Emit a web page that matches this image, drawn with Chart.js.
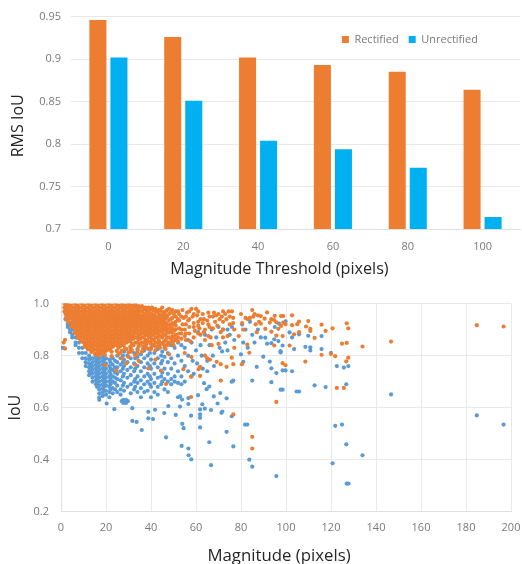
<!DOCTYPE html>
<html><head><meta charset="utf-8">
<style>
html,body{margin:0;padding:0;background:#fff;width:522px;height:564px;overflow:hidden}
.box{position:absolute;left:0;width:522px}
canvas{display:block;filter:blur(.35px)}
</style>
<script src="https://cdn.jsdelivr.net/npm/chart.js@4"></script>
</head><body>
<div class="box" style="top:0;height:285px"><canvas id="bars" width="522" height="285"></canvas></div>
<div class="box" style="top:285px;height:279px"><canvas id="scatter" width="522" height="279"></canvas></div>
<script>
const thresholds = ['0','20','40','60','80','100'];
const rectifiedRms = [0.946,0.926,0.902,0.893,0.885,0.864];
const unrectifiedRms = [0.902,0.851,0.804,0.794,0.772,0.714];
const rmsTicks = [0.7,0.75,0.8,0.85,0.9,0.95];

const rectifiedColumns = [
[1.5,[1,.985,.97]],[2.2,[1,.99,.975,.96,.945]],
[3,[1,.984,.968,.952,.936,.93]],[4.5,[.992,.976,.96,.944,.928,.912]],
[6,[1,.984,.968,.952,.936,.92,.904,.888]],[7.5,[.992,.976,.96,.944,.928,.912,.896,.88,.868]],
[9,[1,.984,.968,.952,.936,.92,.904,.888,.872,.856]],[10.5,[.992,.976,.96,.944,.928,.912,.896,.88,.864,.848,.835]],
[12,[1,.984,.968,.952,.936,.92,.904,.888,.872,.856,.84,.824]],[13.5,[.992,.976,.96,.944,.928,.912,.896,.88,.864,.848,.832,.814]],
[15,[1,.984,.968,.952,.936,.92,.904,.888,.872,.856,.84,.824,.806]],[16.5,[.992,.976,.96,.944,.928,.912,.896,.88,.864,.848,.832,.816,.8]],
[18,[1,.984,.968,.952,.936,.92,.904,.888,.872,.856,.84,.824,.81]],[19.5,[.992,.976,.96,.944,.928,.912,.896,.88,.864,.848,.832,.816,.802]],
[21,[1,.984,.968,.952,.936,.92,.904,.888,.872,.856,.84,.826]],[22.5,[.992,.976,.96,.944,.928,.912,.896,.88,.864,.848,.832,.815,.798]],
[24,[1,.984,.968,.952,.936,.92,.904,.888,.872,.856,.842]],[25.5,[.992,.976,.96,.944,.928,.912,.896,.88,.864,.848,.83,.805]],
[27,[.998,.984,.968,.952,.936,.92,.904,.888,.872,.856,.84,.818,.79]],[28.5,[.992,.976,.96,.944,.928,.912,.896,.88,.864,.85,.828]],
[30,[.998,.984,.968,.952,.936,.92,.904,.888,.872,.858,.812,.795]],[31.5,[.992,.976,.96,.944,.928,.912,.896,.88,.864,.845,.82]],
[33,[.996,.984,.968,.952,.936,.92,.904,.888,.87,.85,.8]],[34.5,[.99,.976,.96,.944,.928,.912,.896,.88,.862,.835,.78]],
[36,[.99,.97,.952,.936,.92,.904,.888,.87,.85,.815]],[37.5,[.985,.976,.96,.944,.928,.912,.896,.88,.86,.84]],
[39,[.985,.968,.952,.936,.92,.904,.888,.872,.855,.825]],[40.5,[.985,.976,.96,.944,.928,.912,.896,.88,.862,.84]],
[42,[.98,.968,.952,.936,.92,.904,.888,.87,.85,.835]],[43.5,[.975,.96,.944,.928,.912,.896,.88,.86,.84]],
[45,[.985,.968,.952,.936,.92,.904,.888,.87,.845]],[46.5,[.97,.955,.944,.928,.912,.896,.88,.86,.825]],
[48,[.98,.96,.936,.92,.904,.888,.87,.85]],[49.5,[.975,.945,.925,.905,.89,.875,.855]],
[51,[.97,.95,.93,.915,.9,.88,.86]],[52.5,[.96,.935,.905,.885]],
[3.8,[.992,.975,.96,.945]],[5.2,[.985,.97,.955,.94,.925,.91]],[6.8,[.992,.975,.96,.945,.93,.915,.9,.885]],[8.2,[.985,.97,.955,.94,.925,.91,.895,.88,.865]],
[9.8,[.992,.975,.96,.945,.93,.915,.9,.885,.87,.852]],[11.2,[.985,.97,.955,.94,.925,.91,.895,.88,.865,.85,.833]],
[12.8,[.992,.975,.96,.945,.93,.915,.9,.885,.87,.855,.84,.825]],[14.2,[.985,.97,.955,.94,.925,.91,.895,.88,.865,.85,.835,.82]],
[15.8,[.992,.975,.96,.945,.93,.915,.9,.885,.87,.855,.84,.825,.81]],[17.2,[.985,.97,.955,.94,.925,.91,.895,.88,.865,.85,.835,.82,.805]],
[18.8,[.992,.975,.96,.945,.93,.915,.9,.885,.87,.855,.84,.825,.812]],[20.2,[.985,.97,.955,.94,.925,.91,.895,.88,.865,.85,.835,.82]],
[21.8,[.992,.975,.96,.945,.93,.915,.9,.885,.87,.855,.84,.822]],[23.2,[.985,.97,.955,.94,.925,.91,.895,.88,.865,.85,.835]],
[24.8,[.992,.975,.96,.945,.93,.915,.9,.885,.87,.855,.84,.818]],[26.2,[.985,.97,.955,.94,.925,.91,.895,.88,.865,.85,.835,.81]],
[27.8,[.992,.975,.96,.945,.93,.915,.9,.885,.87,.855,.84]],[29.2,[.985,.97,.955,.94,.925,.91,.895,.88,.865,.85,.825]],
[30.8,[.992,.975,.96,.945,.93,.915,.9,.885,.87,.855,.835]],[32.2,[.985,.97,.955,.94,.925,.91,.895,.88,.865,.84]],
[33.8,[.988,.975,.96,.945,.93,.915,.9,.885,.87,.85]],[35.2,[.985,.97,.955,.94,.925,.91,.895,.88,.865,.845]],
[36.8,[.98,.96,.945,.93,.915,.9,.885,.87,.85]],[38.2,[.98,.97,.955,.94,.925,.91,.895,.88,.86]],
[39.8,[.978,.96,.945,.93,.915,.9,.885,.87,.85]],[41.2,[.975,.955,.94,.925,.91,.895,.88,.86,.84]],
[42.8,[.97,.945,.93,.915,.9,.885,.87,.85]],[44.2,[.975,.955,.94,.925,.91,.895,.875]],
[45.8,[.96,.945,.93,.915,.9,.88,.855]],[47.2,[.975,.95,.92,.905,.89,.87]],[48.8,[.965,.94,.915,.895,.865]],[50.2,[.96,.92,.895,.87]],
[31,[.83,.815]],[34,[.85,.82,.81]],[36.5,[.835,.825]],[38,[.845,.83]],[40,[.845,.825]],[42,[.82]],[44,[.85,.83]],[46,[.84]],[47.5,[.85,.84]],[50,[.855,.84]],
[52,[.97,.94,.87,.855]],[53.5,[.95,.9,.885,.865]],[55.5,[.95,.92,.885,.86]],[57,[.97,.94]],[59,[.96,.91]],[61,[.97,.915,.885]],[63.5,[.94,.89]],[65.5,[.965,.92,.875]],[67.5,[.95,.905]],[72,[.97,.9,.87]],[75,[.92]]
];
const rectifiedPairs = [
[54,.975],[54.5,.945],[54,.92],[55,.9],[55,.875],[56,.965],[56.5,.935],[57,.91],[57,.885],[57.5,.855],[58,.98],[58.5,.95],[59,.925],[59.5,.895],[59,.87],
[60,.98],[60.5,.955],[61,.93],[61.5,.905],[62,.94],[62,.88],[63,.96],[63,.925],[64,.9],[64,.86],[65,.935],[66,.95],[66,.91],[66.5,.87],[67,.84],
[68,.965],[68.5,.93],[69,.955],[69.5,.915],[70,.96],[70.5,.94],[71,.89],[71.5,.95],[72,.93],[73,.96],[73.5,.94],[74,.875],[74.5,.97],[75,.95],[76,.97],[76.5,.945],[76.5,.925],[77,.9],
[80,.96],[80.5,.925],[81,.9],[82,.945],[83,.94],[84,.945],[85,.975],[85.5,.95],[86,.96],[86.5,.92],[87,.89],[87.5,.955],[88,.93],[88.8,.952],[88.8,.923],[90.5,.942],[91.6,.966],
[90.8,.903],[92.8,.927],[93.5,.94],[93.5,.892],[94.7,.937],[95,.953],[95.7,.928],[95.7,.877],[94.8,.839],[96.6,.903],[97.8,.952],[97.8,.914],[98.8,.952],[98.8,.927],[98.5,.875],[99.8,.921],
[102.7,.955],[102.7,.917],[103.6,.882],[101.6,.839],[105,.921],[105.8,.931],[105.8,.89],[108.9,.912],[109.9,.933],[110.8,.903],[110.8,.895],[112.7,.868],[115.8,.919],[117.6,.895],[120.7,.905],
[127,.924],[127.7,.905],[127,.849],[124.9,.846],[134,.835],[146.7,.854],[184.8,.917],[196.7,.912],
[127.7,.792],[126.8,.778],[121.9,.798],[120,.806],[115.8,.803],[108.6,.777],[99.8,.763],[98.5,.771],[125.7,.676],[122.6,.676],[95.7,.622],
[85,.488],[85,.443],[76.6,.574],[57.8,.641],[46.7,.691],[57.8,.719],[71,.704],[75.9,.792],[76.6,.767],[80.4,.767],[73.6,.757],[71,.767],[69.2,.776],[66.2,.785],[65,.79],[61.8,.757],[61.2,.748],[61.8,.722],[54.4,.748],[44.4,.742],[38.8,.751],[24.7,.742],[19.6,.763],[29,.77],[33,.765],[42,.785],[48,.805],[55,.81],[58,.795],[64,.8],
[1.8,.861],[1.8,.827],[1.2,.85],[82.8,.842],[83.7,.811],[70,.845],[77,.83],[79,.875]
];
const unrectifiedColumns = [
[2,[.99,.96,.94]],[3,[.95,.92,.91]],[4,[.92,.9,.89]],[5,[.9,.88,.87]],[6.5,[.87,.85,.84]],[8,[.85,.83,.81]],[9.5,[.83,.81,.79]],
[11,[.81,.79,.775,.76]],[12.5,[.8,.785,.77,.755,.74,.725]],[14,[.79,.775,.76,.745,.73,.715,.7]],[15.5,[.795,.78,.765,.75,.735,.72,.705,.69]],
[17,[.79,.775,.76,.745,.73,.715,.7,.685,.67,.655,.64,.63]],[18.5,[.795,.78,.765,.75,.735,.72,.705,.69,.675,.66,.645]],
[20,[.79,.77,.75,.73,.715,.7,.685,.665,.65]],[21.5,[.785,.76,.74,.72,.7,.68,.66,.64]],[23,[.79,.765,.745,.72,.7,.675,.655]],
[25,[.8,.775,.755,.73,.71,.685,.66]],[26.5,[.79,.765,.74,.705,.67,.65]],[28,[.815,.785,.76,.73,.695,.665]],[29.5,[.8,.775,.745,.715,.68]],
[31,[.82,.79,.755,.725,.69,.655]],[32.5,[.81,.77,.74,.7,.67]],[34,[.825,.795,.76,.72,.695,.66]],[35.5,[.805,.775,.74,.705,.675,.64]],
[37,[.82,.79,.755,.72,.69,.66]],[38.5,[.8,.77,.73,.7,.665]],[40,[.83,.785,.75,.71,.68,.64]],[41.5,[.81,.77,.73,.695,.66]],
[43,[.825,.79,.755,.715,.68,.65]],[44.5,[.8,.77,.72,.69]],[46,[.83,.795,.75,.71,.67]],[47.5,[.81,.775,.73,.7,.66]],
[49,[.84,.79,.75,.71,.69]],[50.5,[.83,.77,.72,.7]],[52,[.85,.8,.74,.695,.64]],[53.5,[.84,.78,.72,.69]],[55,[.83,.76,.7]],[56.5,[.86,.8,.74]],
[13,[.79,.765,.75,.735]],[16,[.785,.77,.755,.74,.725,.71,.695,.68]],[19.2,[.785,.77,.755,.74,.725,.71,.695,.68,.665]],[22,[.775,.75,.73,.71,.69,.67]],[24,[.78,.755,.735,.715,.695,.67]],
[27.5,[.8,.775,.75,.72,.685]],[33,[.79,.75,.71,.68]],[39.5,[.81,.76,.72,.69]],[45,[.815,.78,.735,.7]]
];
const unrectifiedPairs = [
[0,.83],[1,.83],[58,.85],[58.5,.78],[59,.73],[60,.82],[60.5,.77],[61,.89],[62,.84],[62.5,.8],[63,.75],[64,.88],[65,.78],[65,.74],[66,.84],[67,.9],[67.5,.8],[68,.76],[69,.87],[70,.91],[70.5,.83],[71.6,.816],[72,.9],[73,.85],[74,.82],[74,.9],[75,.88],[76,.91],[77,.86],[80,.805],[81,.776],[80.5,.92],[81,.85],[82,.9],[83,.83],[84,.93],[85,.704],[85,.88],[86,.85],[87,.757],[87.5,.9],
[89.9,.796],[88.8,.87],[90.8,.869],[91.6,.846],[93.5,.848],[94.8,.863],[95,.91],[96.6,.856],[96.9,.923],[98.5,.839],[97.6,.817],[97.6,.812],[99.8,.932],[101.6,.889],[102.7,.87],[103.6,.825],[105.8,.882],[108.6,.834],[109.9,.876],[110.8,.832],[110.8,.82],[115.8,.875],[115.8,.825],[120,.811],
[92.8,.777],[93.5,.751],[95.7,.733],[93.5,.698],[98.5,.743],[99.8,.743],[102.7,.74],[97.6,.669],[98.5,.669],[104.7,.662],[105.8,.662],[112.7,.686],[117.6,.679],[126.8,.69],[122.6,.76],[125.7,.754],[127.7,.76],[146.7,.651],
[184.8,.57],[196.7,.535],[134,.417],[126.8,.459],[124.9,.535],[121.9,.53],[120.7,.386],[127,.308],[127.8,.308],[95.7,.337],
[85,.373],[83.7,.4],[66.7,.379],[57.9,.401],[56.7,.417],[56.6,.443],[53.6,.453],[46.7,.486],[65.9,.467],[76.6,.451],[73.6,.507],[35.9,.514],[33.6,.545],[31.7,.549],[38.8,.559],[40.9,.556],[53.9,.538],[54.5,.521],[61.8,.524],[81.8,.535],[82.8,.535],[75.9,.567],[71.3,.58],[71.7,.585],[61.8,.593],[61.8,.574],[61.8,.561],[63.9,.596],[66.7,.591],[57.8,.569],[51,.572],[45.9,.579],[38.8,.584],[41.8,.592],[31.7,.598],[23.7,.594],[47.7,.606],[52.9,.604],[56.6,.614],[62.8,.613],[69.6,.616],[60.9,.648],[67.9,.643],[70.8,.656],[73.6,.636],[64.7,.671],[65.9,.681],[56.6,.637],[52.9,.643],[53.8,.631],
[27,.625],[27.7,.63],[28.9,.63],[29.7,.625],[28.9,.618],[27.7,.618],[20.3,.616],[63.6,.694],[75.9,.7],[76.6,.704],[58,.72]
];

const rectifiedPoints = rectifiedColumns.flatMap(([x, ys]) => ys.map(y => ({x, y})))
  .concat(rectifiedPairs.map(([x, y]) => ({x, y})));
const unrectifiedPoints = unrectifiedColumns.flatMap(([x, ys]) => ys.map(y => ({x, y})))
  .concat(unrectifiedPairs.map(([x, y]) => ({x, y})));

const FONT = '"Open Sans", sans-serif';
const TICK = '#7a7a7a', GRID = '#e9e9e9', TITLE = '#262626';
const fixW = w => s => { s.width = w; };
const fixH = h => s => { s.height = h; s.paddingLeft = 0; s.paddingRight = 0; };
const shiftTitle = (scale, dx, dy) => {
  const draw = scale.drawTitle;
  scale.drawTitle = function () { const c = this.ctx; c.save(); c.translate(dx, dy); draw.call(this); c.restore(); };
};
const titleShift = (xdx, xdy, ydx, ydy) => ({
  id: 'titleShift',
  start() { this.done = false; },
  beforeDraw(c) { if (this.done) return; this.done = true; shiftTitle(c.scales.x, xdx, xdy); shiftTitle(c.scales.y, ydx, ydy); }
});

new Chart(document.getElementById('bars'), {
  type: 'bar',
  data: { labels: thresholds, datasets: [
    { label: 'Rectified', data: rectifiedRms, backgroundColor: '#ED7D31', barPercentage: .81, categoryPercentage: .5622 },
    { label: 'Unrectified', data: unrectifiedRms, backgroundColor: '#00B0F0', barPercentage: .81, categoryPercentage: .5622 }
  ]},
  options: {
    responsive: false, animation: false,
    layout: { padding: { top: 15, right: 2, left: 0, bottom: 0 } },
    plugins: {
      legend: { position: 'top', align: 'end', fullSize: false,
        labels: { boxWidth: 7, boxHeight: 7, padding: 10, color: TICK, font: { family: FONT, size: 11 } } },
      tooltip: { enabled: false }
    },
    scales: {
      x: { grid: { display: false }, border: { color: '#e0e0e0' },
        ticks: { color: TICK, font: { family: FONT, size: 11 }, padding: 3 },
        title: { display: true, text: 'Magnitude Threshold (pixels)', color: TITLE, font: { family: FONT, size: 16.2 }, padding: { top: 6, bottom: 0 } },
        afterFit: fixH(56) },
      y: { min: 0.7, max: 0.95, grid: { color: GRID, drawTicks: false }, border: { display: false },
        afterBuildTicks: s => { s.ticks = rmsTicks.map(value => ({ value })); },
        ticks: { color: TICK, font: { family: FONT, size: 11 }, padding: 10, callback: v => String(+v.toFixed(2)) },
        title: { display: true, text: 'RMS IoU', color: TITLE, font: { family: FONT, size: 16 }, padding: { top: 0, bottom: 0 } },
        afterFit: fixW(71) }
    }
  },
  plugins: [{
    id: 'legendPlace',
    beforeLayout(c) {
      const l = c.legend;
      if (l._patched) return;
      l._patched = true;
      const fit = l.fit;
      l.fit = function () { fit.call(this); this.height = 0; };
    },
    beforeDraw(c) { const l = c.legend; l.right = 488; l.left = 300; l.top = 24; l.bottom = 60; }
  }, titleShift(-16, -6, 9, 3)]
});

new Chart(document.getElementById('scatter'), {
  type: 'scatter',
  data: { datasets: [
    { label: 'Unrectified', data: unrectifiedPoints, backgroundColor: '#5B9BD5', pointRadius: 2.1, borderWidth: 0, order: 2 },
    { label: 'Rectified', data: rectifiedPoints, backgroundColor: '#ED7D31', pointRadius: 2.1, borderWidth: 0, order: 1 }
  ]},
  options: {
    responsive: false, animation: false,
    layout: { padding: { top: 15.7, right: 11, left: 0, bottom: 0 } },
    plugins: { legend: { display: false }, tooltip: { enabled: false } },
    scales: {
      x: { type: 'linear', min: 0, max: 200, grid: { color: GRID, drawTicks: false }, border: { color: '#e0e0e0' },
        ticks: { stepSize: 20, color: TICK, font: { family: FONT, size: 11 }, padding: 10, maxRotation: 0 },
        title: { display: true, text: 'Magnitude (pixels)', color: TITLE, font: { family: FONT, size: 16.8 }, padding: { top: 6, bottom: 0 } },
        afterFit: fixH(52.3) },
      y: { min: 0.2, max: 1, grid: { color: GRID, drawTicks: false }, border: { color: '#e0e0e0' },
        ticks: { stepSize: 0.2, color: TICK, font: { family: FONT, size: 11 }, padding: 12, callback: v => v.toFixed(1) },
        title: { display: true, text: 'IoU', color: TITLE, font: { family: FONT, size: 16 }, padding: { top: 0, bottom: 0 } },
        afterFit: fixW(61) }
    }
  },
  plugins: [titleShift(-7, 2, 6, 0)]
});
</script>
</body></html>
